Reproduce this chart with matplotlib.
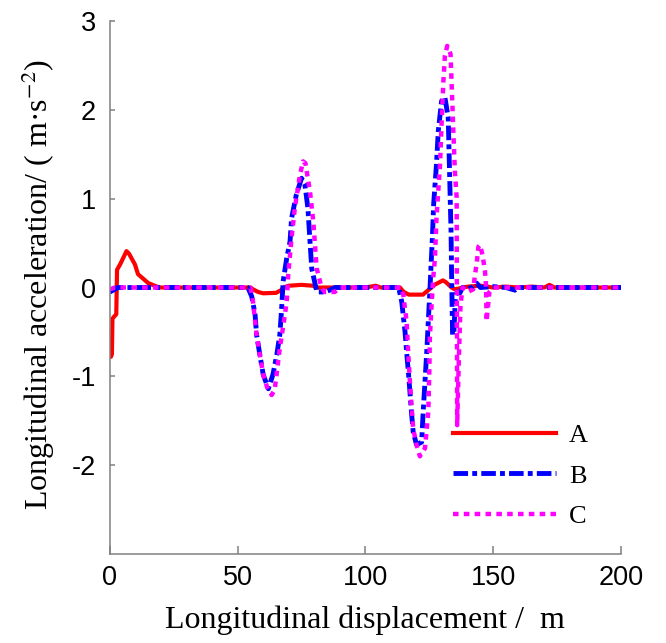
import matplotlib
matplotlib.use("Agg")
import matplotlib.pyplot as plt

# ---- data ----
xA = [0, 0.4, 0.8, 1.0, 2.5, 2.8, 4.0, 5.5, 6.5, 7.5, 9.8, 11, 13, 15, 18.4, 20,
      55, 56, 58, 60, 65, 67, 68, 70, 75, 79.5, 81, 100, 104, 106, 113.5, 115, 117,
      122.5, 125, 127, 130.3, 131.5, 133.7, 135, 140, 145, 150, 155, 160, 165, 170,
      172, 174, 180, 200]
yA = [-0.75, -0.78, -0.75, -0.35, -0.3, 0.2, 0.26, 0.35, 0.41, 0.38, 0.26, 0.15, 0.1,
      0.05, 0.01, 0, 0, -0.02, -0.05, -0.065, -0.06, -0.03, 0, 0.02, 0.03, 0.02, 0,
      0, 0.02, 0, 0, -0.05, -0.08, -0.08, -0.02, 0.03, 0.08, 0.06, 0, -0.02, 0.01,
      0.02, 0, 0.01, 0, 0.01, 0, 0.03, 0, 0, 0]

xB = [0, 2, 3, 54, 55.5, 56.8, 57.4, 58.7, 60, 62, 63.8, 65.3, 66.5, 67.2, 67.8, 69.2,
      70.5, 71.1, 73, 75, 76.3, 77.5, 78.3, 79, 81, 84, 86, 88, 113, 114.2, 115.5,
      116.1, 116.8, 117.4, 118, 118.7, 120, 122, 122.6, 123.3, 124, 124.6, 125.2,
      125.6, 126.2, 126.7, 127.8, 128.5, 129.8, 131.1, 132.4, 133, 133.5, 133.7,
      134.1, 134.6, 135.2, 136, 137, 138, 140, 142, 143.5, 145, 150, 155, 158.5,
      160, 200]
yB = [-0.05, -0.02, 0, 0, -0.1, -0.3, -0.53, -0.76, -0.98, -1.14, -0.98, -0.76, -0.53,
      -0.24, 0.07, 0.33, 0.52, 0.78, 1.05, 1.23, 1.16, 0.89, 0.52, 0.21, -0.05, -0.05,
      -0.03, 0, 0, -0.16, -0.5, -0.72, -0.95, -1.17, -1.4, -1.63, -1.77, -1.74, -1.4,
      -1.06, -0.72, -0.38, -0.05, 0.2, 0.56, 0.94, 1.39, 1.76, 2.1, 2.14, 1.91, 1.2,
      0.63, 0.18, -0.53, -0.53, -0.1, -0.05, -0.06, 0, -0.02, 0.01, 0.05, 0, 0.01, 0,
      -0.03, 0, 0]

xC = [0, 2, 55, 55.4, 56, 57.4, 58.7, 60, 61.5, 63.3, 64.5, 66.5, 68, 69.2, 69.8, 71.1,
      72.4, 74.4, 75.6, 76.5, 78.3, 79.6, 80.9, 82.8, 84, 88, 90, 114, 114.8, 116.1,
      116.8, 117.4, 118, 118.7, 120, 121.3, 123.3, 124.6, 125, 125.2, 125.9, 126.5,
      127.2, 127.8, 129.2, 129.8, 130.5, 131.1, 132, 133.3, 133.7, 134.4, 135, 135.7,
      135.9, 136.6, 137.2, 138, 140, 142.2, 142.9, 143.5, 144.2, 144.8, 145.8, 146.8,
      147.2, 147.4, 148.5, 150, 200]
yC = [-0.02, 0, 0, -0.05, -0.16, -0.53, -0.76, -0.98, -1.12, -1.21, -1.15, -0.68, -0.4,
      -0.16, 0.15, 0.56, 0.9, 1.27, 1.42, 1.4, 1.08, 0.74, 0.22, 0, -0.05, -0.05, 0, 0,
      -0.08, -0.38, -0.76, -1.06, -1.32, -1.59, -1.77, -1.9, -1.81, -1.4, -0.95, -0.57,
      -0.19, 0.1, 0.33, 0.78, 1.39, 1.84, 2.32, 2.61, 2.72, 2.63, 2.32, 1.76, 1.31,
      1.01, -1.55, -0.76, -0.2, 0, -0.05, -0.02, 0.15, 0.26, 0.46, 0.48, 0.37, 0.18,
      0, -0.38, -0.05, 0, 0]

labels = ["A", "B", "C"]
xticks = [0, 50, 100, 150, 200]
yticks = [-2, -1, 0, 1, 2, 3]

plt.rcParams['mathtext.fontset'] = 'stix'
plt.rcParams['lines.scale_dashes'] = False

fig = plt.figure(figsize=(6.66, 6.43), dpi=100)
ax = fig.add_axes([0.165, 0.1384, 0.7674, 0.8289])

ax.plot(xA, yA, color='#ff0000', lw=3.0, solid_joinstyle='round', label=labels[0])
ax.plot(xB, yB, color='#0000ff', lw=3.5, dashes=(10.5, 3, 3.5, 3), label=labels[1])
ax.plot(xC, yC, color='#ff00ff', lw=3.2, dashes=(4, 3.8), label=labels[2])

ax.set_xlim(0, 200)
ax.set_ylim(-3, 3)
ax.set_xticks(xticks)
ax.set_yticks(yticks)
ax.set_xticklabels([str(t) for t in xticks], family='Liberation Sans', fontsize=19.5)
ax.set_yticklabels([str(t) for t in yticks], family='Liberation Sans', fontsize=19.5)

for s in ['top', 'right']:
    ax.spines[s].set_visible(False)
for s in ['left', 'bottom']:
    ax.spines[s].set_color('#808080')
    ax.spines[s].set_linewidth(1.1)
ax.tick_params(axis='x', direction='in', length=5.5, width=1.1, color='#808080', pad=8)
ax.tick_params(axis='y', direction='in', length=3.5, width=1.1, color='#808080', pad=10)

ax.set_xlabel('Longitudinal displacement /  m', family='Liberation Serif', fontsize=23,
              va='center')
ax.xaxis.set_label_coords(0.5, -0.124)
ax.set_ylabel('Longitudinal acceleration/ ( m·s$^{-2}$)', family='Liberation Serif',
              fontsize=23, va='center')
ax.yaxis.set_label_coords(-0.141, 0.505)

leg = ax.legend(loc='upper left', bbox_to_anchor=(0.671, 0.245), frameon=False,
                prop={'family': 'Liberation Serif', 'size': 19},
                handlelength=3.9, handletextpad=0.5, labelspacing=0.65,
                borderaxespad=0, borderpad=0)

fig.savefig('out.png', dpi=100)
